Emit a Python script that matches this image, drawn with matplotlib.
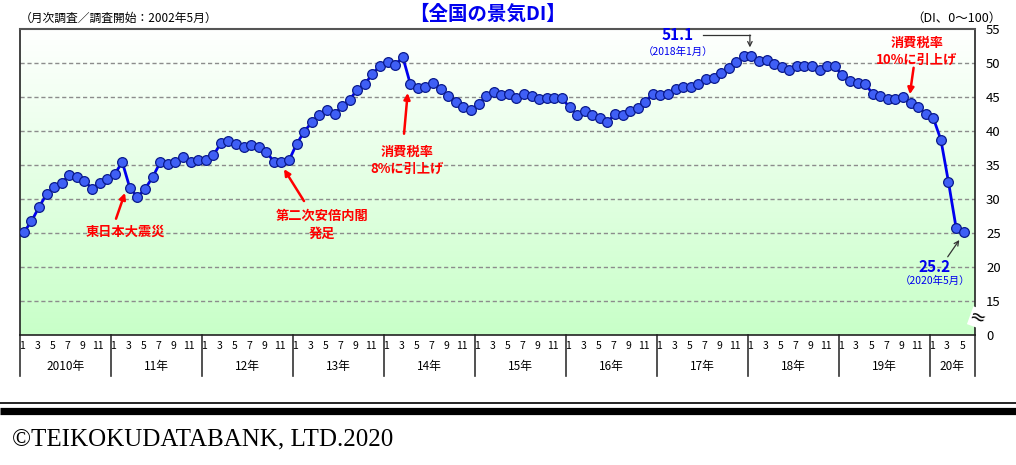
import numpy as np
import matplotlib
matplotlib.use("Agg")
import matplotlib.pyplot as plt
from matplotlib.transforms import blended_transform_factory

plt.rcParams['font.family'] = ['Noto Sans CJK JP', 'DejaVu Sans']

# ---------------- data ----------------
years = ["2010年", "11年", "12年", "13年", "14年", "15年", "16年", "17年", "18年", "19年", "20年"]
months_in_year = [12, 12, 12, 12, 12, 12, 12, 12, 12, 12, 6]
month_labels = ["1", "3", "5", "7", "9", "11"]

di_2010 = [25.1, 26.7, 28.8, 30.7, 31.7, 32.4, 33.5, 33.2, 32.7, 31.5, 32.4, 32.9]
di_2011 = [33.7, 35.4, 31.6, 30.3, 31.5, 33.2, 35.4, 35.1, 35.5, 36.2, 35.5, 35.7]
di_2012 = [35.8, 36.4, 38.2, 38.5, 38.1, 37.6, 38.0, 37.7, 36.9, 35.5, 35.4, 35.7]
di_2013 = [38.1, 39.9, 41.3, 42.4, 43.1, 42.5, 43.7, 44.6, 46.1, 46.9, 48.4, 49.6]
di_2014 = [50.1, 49.7, 50.9, 46.9, 46.3, 46.5, 47.0, 46.2, 45.1, 44.2, 43.6, 43.1]
di_2015 = [44.0, 45.1, 45.8, 45.3, 45.4, 44.8, 45.5, 45.2, 44.7, 44.8, 44.8, 44.8]
di_2016 = [43.5, 42.4, 42.9, 42.4, 41.9, 41.3, 42.5, 42.4, 43.0, 43.4, 44.2, 45.5]
di_2017 = [45.3, 45.5, 46.2, 46.5, 46.5, 46.9, 47.6, 47.8, 48.5, 49.2, 50.1, 51.0]
di_2018 = [51.1, 50.3, 50.4, 49.8, 49.4, 49.0, 49.6, 49.6, 49.5, 49.0, 49.6, 49.5]
di_2019 = [48.2, 47.3, 47.0, 46.9, 45.5, 45.1, 44.7, 44.7, 45.0, 44.1, 43.6, 42.5]
di_2020 = [41.9, 38.7, 32.5, 25.8, 25.2]

ytick_values = [10, 15, 20, 25, 30, 35, 40, 45, 50, 55]
ytick_labels = ["0", "15", "20", "25", "30", "35", "40", "45", "50", "55"]

di = np.array(di_2010 + di_2011 + di_2012 + di_2013 + di_2014 + di_2015 +
              di_2016 + di_2017 + di_2018 + di_2019 + di_2020)
x = np.arange(len(di)) + 0.5
n_slots = sum(months_in_year)

# ---------------- figure ----------------
W, H = 1016, 465
fig = plt.figure(figsize=(W / 100, H / 100), dpi=100)
L, R, T, B = 20, 975, 29, 335
ax = fig.add_axes([L / W, 1 - B / H, (R - L) / W, (B - T) / H])
ax.set_xlim(0, n_slots)
ax.set_ylim(10, 55)

# gradient background
grad = np.linspace(0, 1, 256).reshape(-1, 1)
top_c = np.array([1.0, 1.0, 1.0])
bot_c = np.array([200, 255, 200]) / 255
img = top_c[None, None, :] * (1 - grad[:, :, None]) + bot_c[None, None, :] * grad[:, :, None]
ax.imshow(img, extent=[0, n_slots, 10, 55], aspect='auto', origin='upper', zorder=0)

# gridlines
for v in ytick_values[1:-1]:
    ax.axhline(v, color='#8c8c8c', lw=1.0, ls=(0, (3, 2)), zorder=1)

ax.plot(x, di, color='#0000ee', lw=2.0, zorder=3,
        marker='o', markersize=7, markerfacecolor='#3f5ff5',
        markeredgecolor='#0a1a8c', markeredgewidth=0.9)

# spines
for s in ['left', 'right', 'bottom']:
    ax.spines[s].set_color('#222222')
    ax.spines[s].set_linewidth(1.2)
ax.spines['top'].set_color('#555555')
ax.spines['top'].set_linewidth(1.5)
ax.spines['top'].set_linestyle((0, (3, 1)))

ax.set_xticks([])
ax.yaxis.tick_right()
ax.set_yticks(ytick_values)
ax.set_yticklabels(ytick_labels, fontsize=9.5)
ax.tick_params(axis='y', length=0, pad=8)

# axis break marker
ax.text(1.003, 12.5, "≈", transform=blended_transform_factory(ax.transAxes, ax.transData),
        fontsize=14, ha='center', va='center', color='black', zorder=5,
        family=['DejaVu Sans'], rotation=-20,
        bbox=dict(boxstyle='square,pad=0.0', fc='white', ec='none'))

# month / year labels below axis
tr = blended_transform_factory(ax.transData, ax.transAxes)
start = 0
bounds = [0]
for yl, nm in zip(years, months_in_year):
    for lab in month_labels:
        m = int(lab)
        if m <= nm:
            ax.text(start + m - 0.7, -0.035, lab, transform=tr, ha='center', va='center',
                    fontsize=7.5, clip_on=False)
    ax.text(start + nm / 2, -0.103, yl, transform=tr, ha='center', va='center',
            fontsize=8.5, clip_on=False)
    start += nm
    bounds.append(start)
for b in bounds:
    ax.plot([b, b], [0, -0.135], transform=tr, color='#333333', lw=1.2, clip_on=False)

# titles
fig.text(488 / W, 1 - 14 / H, "【全国の景気DI】", color='#0000ee', fontsize=14,
         fontweight='bold', ha='center', va='center')
fig.text(20 / W, 1 - 18 / H, "（月次調査／調査開始：2002年5月）", fontsize=8.5,
         ha='left', va='center')
fig.text(1002 / W, 1 - 18 / H, "（DI、0〜100）", fontsize=9, ha='right', va='center')

# annotations (red)
red = '#ff0000'
def red_note(tx, ty, txt, tail, head):
    ax.text(tx, ty, txt, color=red, fontsize=9.5, fontweight='bold',
            ha='center', va='center', linespacing=1.3, zorder=6)
    ax.annotate("", xy=head, xytext=tail,
                arrowprops=dict(arrowstyle='-|>', color=red, lw=1.8,
                                mutation_scale=9, shrinkA=0, shrinkB=0), zorder=6)

red_note(13.85, 25.15, "東日本大震災", (12.67, 27.1), (13.85, 30.9))
red_note(39.85, 26.2, "第二次安倍内閣\n発足", (37.47, 29.7), (34.83, 34.4))
red_note(51.06, 35.65, "消費税率\n8%に引上げ", (50.67, 39.6), (51.15, 45.6))
red_note(118.35, 51.75, "消費税率\n10%に引上げ", (117.9, 49.3), (117.4, 45.4))

# peak annotation
blue = '#0000ee'
ax.text(86.8, 54.1, "51.1", color=blue, fontsize=11, fontweight='bold',
        ha='center', va='center', zorder=6, clip_on=False)
ax.text(86.8, 51.7, "（2018年1月）", color=blue, fontsize=7.5, ha='center', va='center', zorder=6)
ax.plot([90.1, 96.3], [54.12, 54.12], color='#333333', lw=0.9, zorder=6)
ax.annotate("", xy=(96.3, 52.3), xytext=(96.3, 54.12),
            arrowprops=dict(arrowstyle='->', color='#333333', lw=0.9,
                            mutation_scale=8, shrinkA=0, shrinkB=0), zorder=6)

# latest annotation
ax.text(120.7, 19.96, "25.2", color=blue, fontsize=11, fontweight='bold',
        ha='center', va='center', zorder=6)
ax.text(120.7, 18.0, "（2020年5月）", color=blue, fontsize=7.5, ha='center', va='center', zorder=6)
ax.annotate("", xy=(123.93, 23.97), xytext=(122.4, 21.5),
            arrowprops=dict(arrowstyle='->', color='#333333', lw=0.9,
                            mutation_scale=8, shrinkA=0, shrinkB=0), zorder=6)

# footer lines
fig.add_artist(plt.Line2D([0, 1], [1 - 402.5 / H, 1 - 402.5 / H], color='black', lw=1.2,
                          transform=fig.transFigure))
fig.add_artist(plt.Line2D([0, 1], [1 - 410.5 / H, 1 - 410.5 / H], color='black', lw=5.2,
                          transform=fig.transFigure, solid_capstyle='butt'))
fig.text(12 / W, 1 - 439 / H, "©TEIKOKUDATABANK, LTD.2020", fontsize=18,
         family=['Liberation Serif'], ha='left', va='center')

fig.savefig("out.png", dpi=100)
